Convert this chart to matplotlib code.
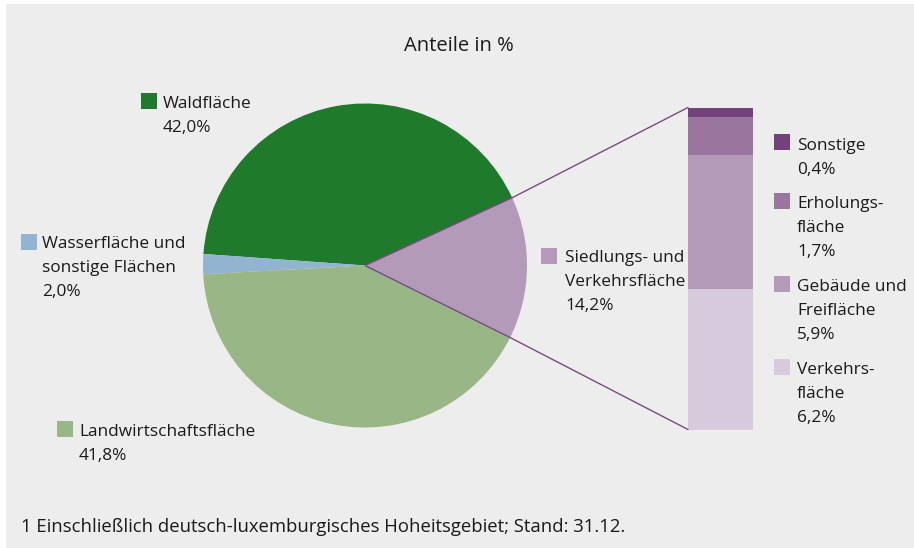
import matplotlib
matplotlib.use('Agg')
import numpy as np
import matplotlib.pyplot as plt
from matplotlib.patches import Rectangle, ConnectionPatch

# ---------------- data ----------------
pie_labels = ["Siedlungs- und\nVerkehrsfläche", "Waldfläche",
              "Wasserfläche und\nsonstige Flächen", "Landwirtschaftsfläche"]
pie_values = [14.2, 42.0, 2.0, 41.8]
pie_colors = ["#b29ab8", "#1f7a2b", "#92b4d0", "#99b686"]

bar_labels = ["Verkehrs-\nfläche", "Gebäude und\nFreifläche", "Erholungs-\nfläche", "Sonstige"]
bar_values = [6.2, 5.9, 1.7, 0.4]
bar_colors = ["#d8cadd", "#b29ab8", "#9a759e", "#74427a"]

title = "Anteile in %"
footnote = "1 Einschließlich deutsch-luxemburgisches Hoheitsgebiet; Stand: 31.12."

# ---------------- style ----------------
W, H = 914, 548
BG = "#ecedec"
TXT = "#1a1a1a"
LINE = "#7b4a81"
FONT = "Open Sans"
FS = 12.4

plt.rcParams['font.family'] = [FONT, 'DejaVu Sans']

fig = plt.figure(figsize=(W / 100, H / 100), dpi=100)
fig.patch.set_facecolor('white')
ax = fig.add_axes([0, 0, 1, 1])
ax.add_patch(Rectangle((6, 4), W - 6, H - 4, facecolor=BG, edgecolor='none', zorder=0))

# pie
cx, cy, r = 365, 265.5, 162
wedges, _ = ax.pie(pie_values, colors=pie_colors, center=(cx, cy), radius=r,
                   startangle=26.4, counterclock=False,
                   wedgeprops=dict(linewidth=0), frame=True)
ax.set_xlim(0, W)
ax.set_ylim(H, 0)
ax.axis('off')

# stacked bar
bx0, by_bottom, bw, bh = 688, 429.5, 65, 322
bax = fig.add_axes([bx0 / W, (H - by_bottom) / H, bw / W, bh / H])
bax.set_xlim(0, 1)
total = sum(bar_values)
bax.set_ylim(0, total)
bottom = 0
for v, c in zip(bar_values, bar_colors):
    bax.bar(0.5, v, width=1.0, bottom=bottom, color=c, linewidth=0)
    bottom += v
bax.axis('off')

# connector lines: centre -> wedge edge -> bar corner
w0 = wedges[0]
for ang, yb in ((w0.theta1, total), (w0.theta2, 0)):
    a = np.deg2rad(ang)
    ex, ey = cx + r * np.cos(a), cy + r * np.sin(a)
    ax.plot([cx, ex], [cy, ey], color=LINE, linewidth=1.0, zorder=4,
            solid_capstyle='butt')
    con = ConnectionPatch(xyA=(0, yb), coordsA=bax.transData,
                          xyB=(ex, ey), coordsB=ax.transData,
                          color=LINE, linewidth=1.0, zorder=5)
    fig.add_artist(con)


def fmt(v):
    return f"{v:.1f}".replace('.', ',') + "%"


def legend_item(sq_x, sq_y, tx, base, label, value, color):
    ax.add_patch(Rectangle((sq_x, sq_y), 16, 16, facecolor=color, edgecolor='none', zorder=3))
    lines = label.split("\n") + [fmt(value)]
    for i, ln in enumerate(lines):
        ax.text(tx, base + 24 * i, ln, fontsize=FS, color=TXT, ha='left', va='baseline')


# pie legend entries: (square x, square top, text x, first baseline)
pie_pos = [(541, 247.5, 565, 262.5), (141, 93, 163, 108),
           (21, 234, 42, 248.5), (57, 421, 79, 436)]
for (sx, sy, tx, b), lab, val, col in zip(pie_pos, pie_labels, pie_values, pie_colors):
    legend_item(sx, sy, tx, b, lab, val, col)

# bar legend entries
bar_pos = [(774, 359, 797, 373.5), (774, 276, 797, 291),
           (774, 193, 797, 208.5), (774, 134, 797, 149.5)]
for (sx, sy, tx, b), lab, val, col in zip(bar_pos, bar_labels, bar_values, bar_colors):
    legend_item(sx, sy, tx, b, lab, val, col)

ax.text(459, 51, title, fontsize=14.5, color=TXT, ha='center', va='baseline')
ax.text(21, 532, footnote, fontsize=13.3, color=TXT, ha='left', va='baseline')

fig.savefig("out.png", dpi=100, facecolor=fig.get_facecolor())
